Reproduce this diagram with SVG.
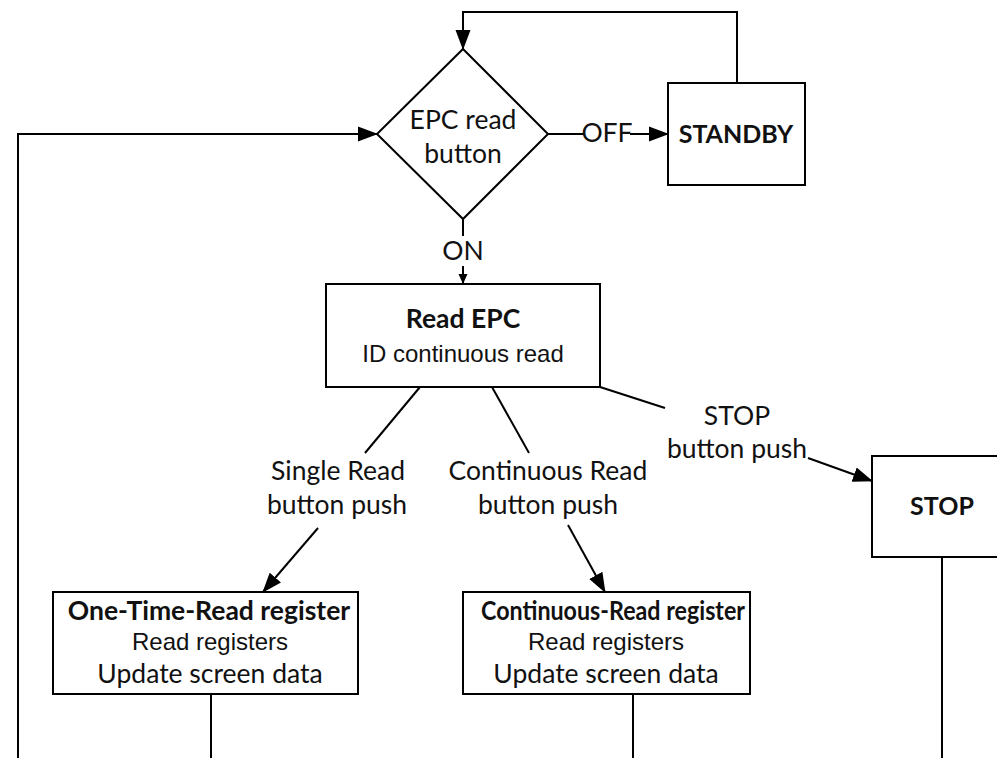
<svg xmlns="http://www.w3.org/2000/svg" width="997" height="758" viewBox="0 0 997 758">
  <defs>
    <marker id="arrow" markerWidth="20" markerHeight="16" refX="19" refY="8" orient="auto" markerUnits="userSpaceOnUse">
      <path d="M0,0.5 L20,8 L0,15.5 Z" fill="#000"/>
    </marker>
    <marker id="arrow-small" markerWidth="10" markerHeight="10" refX="10" refY="5" orient="auto" markerUnits="userSpaceOnUse">
      <path d="M0,0.5 L10,5 L0,9.5 Z" fill="#000"/>
    </marker>
  </defs>
  <style>
    .box { fill: #fff; stroke: #000; stroke-width: 2; }
    .line { fill: none; stroke: #000; stroke-width: 2; }
    .arr { marker-end: url(#arrow); }
    .t { font-family: Lato, "Liberation Sans", sans-serif; font-size: 26.5px; fill: #111; text-anchor: middle; }
    .b { font-weight: bold; }
    .caps { font-size: 25px; }
    .a { font-family: "Liberation Sans", Arial, sans-serif; font-size: 24px; fill: #111; text-anchor: middle; }
  </style>
  <rect width="997" height="758" fill="#fff"/>

  <g id="connectors">
    <!-- standby loops back to the decision -->
    <polyline class="line arr" points="737,83 737,12 463,12 463,49"/>
    <!-- long return path on the left -->
    <polyline class="line arr" points="18,758 18,134 377,134"/>
    <!-- OFF branch -->
    <line class="line" x1="548" y1="134" x2="584" y2="134"/>
    <line class="line arr" x1="630" y1="134" x2="668" y2="134"/>
    <!-- ON branch -->
    <line class="line" x1="463" y1="219" x2="463" y2="236"/>
    <line class="line" x1="463" y1="266" x2="463" y2="284" marker-end="url(#arrow-small)"/>
    <!-- single read -->
    <line class="line" x1="420" y1="387" x2="365" y2="453"/>
    <line class="line arr" x1="318" y1="528" x2="263" y2="592"/>
    <!-- continuous read -->
    <line class="line" x1="492" y1="387" x2="529" y2="453"/>
    <line class="line arr" x1="568" y1="525" x2="605" y2="592"/>
    <!-- stop -->
    <line class="line" x1="600" y1="387" x2="665" y2="408"/>
    <line class="line arr" x1="808" y1="458" x2="872" y2="481"/>
    <!-- exits at the bottom -->
    <line class="line" x1="211" y1="694" x2="211" y2="758"/>
    <line class="line" x1="633" y1="694" x2="633" y2="758"/>
    <line class="line" x1="942" y1="557" x2="942" y2="758"/>
    <!-- connector labels -->
    <text class="t" x="607" y="142">OFF</text>
    <text class="t" x="463" y="260">ON</text>
    <text class="t" x="338" y="480">Single Read</text>
    <text class="t" x="337" y="514">button push</text>
    <text class="t" x="548" y="480">Continuous Read</text>
    <text class="t" x="548" y="514">button push</text>
    <text class="t" x="737" y="425">STOP</text>
    <text class="t" x="737" y="458">button push</text>
  </g>

  <g id="epc-read-button">
    <polygon class="box" points="463,49 548,134 463,219 377,134"/>
    <text class="t" x="463" y="129">EPC read</text>
    <text class="t" x="463" y="163">button</text>
  </g>

  <g id="standby">
    <rect class="box" x="668" y="83" width="137" height="102"/>
    <text class="t b caps" x="736" y="143">STANDBY</text>
  </g>

  <g id="read-epc">
    <rect class="box" x="326" y="284" width="274" height="103"/>
    <text class="t b" x="463" y="328">Read EPC</text>
    <text class="a" x="463" y="362">ID continuous read</text>
  </g>

  <g id="stop">
    <rect class="box" x="872" y="456" width="140" height="101"/>
    <text class="t b caps" x="942" y="515">STOP</text>
  </g>

  <g id="one-time-read">
    <rect class="box" x="53" y="592" width="305" height="102"/>
    <text class="t b" x="209" y="620">One-Time-Read register</text>
    <text class="a" x="210" y="650">Read registers</text>
    <text class="t" x="210" y="683">Update screen data</text>
  </g>

  <g id="continuous-read">
    <rect class="box" x="463" y="592" width="287" height="102"/>
    <text class="t b" x="613" y="620" textLength="264" lengthAdjust="spacingAndGlyphs">Continuous-Read register</text>
    <text class="a" x="606" y="650">Read registers</text>
    <text class="t" x="606" y="683">Update screen data</text>
  </g>
</svg>
